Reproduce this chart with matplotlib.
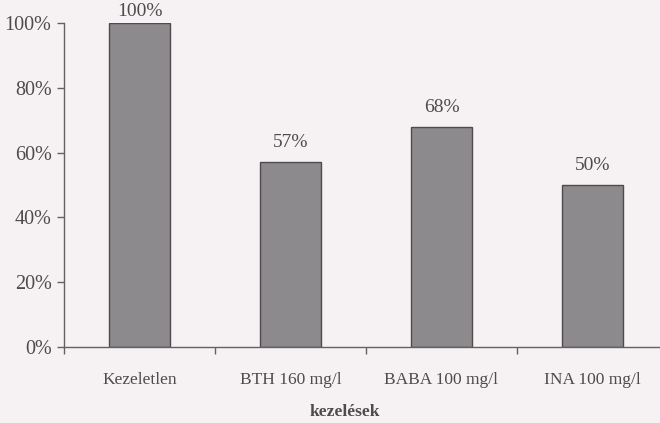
import matplotlib
matplotlib.use("Agg")
import matplotlib.pyplot as plt
from matplotlib.ticker import FixedLocator, NullFormatter, PercentFormatter

categories = ["Kezeletlen", "BTH 160 mg/l", "BABA 100 mg/l", "INA 100 mg/l"]
values = [1.00, 0.57, 0.68, 0.50]
value_labels = ["100%", "57%", "68%", "50%"]
y_ticks = [0.0, 0.2, 0.4, 0.6, 0.8, 1.0]
x_label = "kezelések"

plt.rcParams["font.family"] = ["Liberation Serif", "DejaVu Serif"]

bg = "#f6f2f4"
axis_col = "#666064"
text_col = "#4f4a4d"

fig = plt.figure(figsize=(6.6, 4.23), dpi=100, facecolor=bg)
W, H = 660, 423
left_px, right_px = 64, 660
top_px, bottom_px = 23, 347
ax = fig.add_axes([left_px / W, 1 - bottom_px / H,
                   (right_px - left_px) / W, (bottom_px - top_px) / H])
ax.set_facecolor(bg)

x = range(len(categories))
bars = ax.bar(x, values, width=0.4, color="#8c8a8c",
              edgecolor="#4e4a4d", linewidth=1.0, zorder=2)

ax.set_xlim(-0.5, -0.5 + (right_px - left_px) / 151.0)
ax.set_ylim(0, 1.0)

for spine in ["top", "right"]:
    ax.spines[spine].set_visible(False)
for spine in ["left", "bottom"]:
    ax.spines[spine].set_color(axis_col)
    ax.spines[spine].set_linewidth(1.0)

ax.yaxis.set_major_locator(FixedLocator(y_ticks))
ax.yaxis.set_major_formatter(PercentFormatter(1.0, decimals=0))
ax.tick_params(axis="y", direction="out", length=5, width=1.0,
               color=axis_col, labelcolor=text_col, labelsize=14.5, pad=4)

# x ticks sit between categories; labels placed at category centres
ax.xaxis.set_major_locator(FixedLocator([-0.5, 0.5, 1.5, 2.5, 3.5]))
ax.xaxis.set_major_formatter(NullFormatter())
ax.xaxis.set_minor_locator(FixedLocator(list(x)))
ax.set_xticklabels(categories, minor=True)
ax.tick_params(axis="x", which="major", direction="out", length=5,
               width=1.0, color=axis_col)
ax.tick_params(axis="x", which="minor", length=0, labelsize=12.5,
               labelcolor=text_col, pad=18)

fig.text(345 / W, 1 - 412 / H, x_label, fontsize=12.5, fontweight="bold",
         color=text_col, ha="center", va="center")

for rect, v, lab in zip(bars, values, value_labels):
    off = 8 if v >= ax.get_ylim()[1] else 14
    ax.annotate(lab, (rect.get_x() + rect.get_width() / 2, v),
                xytext=(0, off), textcoords="offset points",
                ha="center", va="center", fontsize=14, color=text_col,
                annotation_clip=False)

fig.savefig("out.png", dpi=100, facecolor=bg)
